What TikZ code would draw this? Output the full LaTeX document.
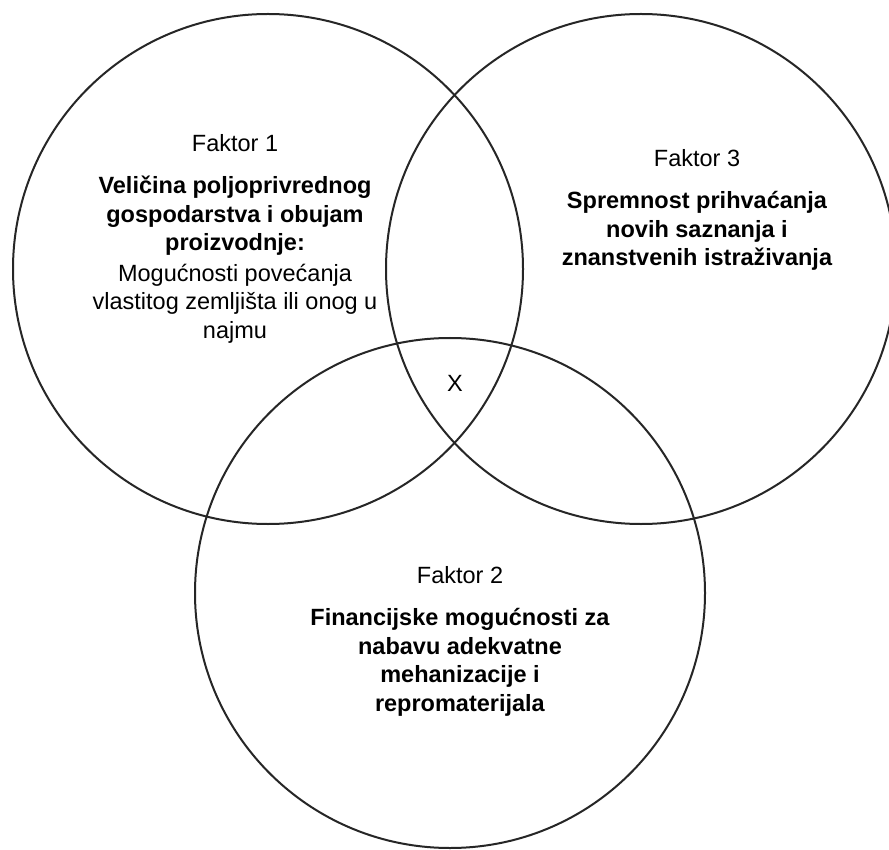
\documentclass[tikz,border=0pt]{standalone}
\usepackage{fontspec}
\setmainfont{Liberation Sans}
\begin{document}
\begin{tikzpicture}[x=1pt,y=-1pt,
  venn/.style={draw=black!85, line width=2pt},
  vtext/.style={align=center, inner sep=0pt, anchor=north, font=\fontsize{23.5}{28.5}\selectfont}]
\useasboundingbox (0,0) rectangle (889,850);
\fill[white] (0,0) rectangle (889,850);
\coordinate (c1) at (268,269);
\coordinate (c3) at (641,269);
\coordinate (c2) at (450,593);
\draw[venn] (c1) circle[radius=255];
\draw[venn] (c3) circle[radius=255];
\draw[venn] (c2) circle[radius=255];
\node[vtext] (t1) at (235,134.5) {Faktor 1\\[13.5pt]
  \textbf{Veličina poljoprivrednog}\\
  \textbf{gospodarstva i obujam}\\
  \textbf{proizvodnje:}\\[2pt]
  Mogućnosti povećanja\\
  vlastitog zemljišta ili onog u\\
  najmu};
\node[vtext] (t3) at (697,149.5) {Faktor 3\\[13.5pt]
  \textbf{Spremnost prihvaćanja}\\
  \textbf{novih saznanja i}\\
  \textbf{znanstvenih istraživanja}};
\node[vtext] (t2) at (460,566.5) {Faktor 2\\[13.5pt]
  \textbf{Financijske mogućnosti za}\\
  \textbf{nabavu adekvatne}\\
  \textbf{mehanizacije i}\\
  \textbf{repromaterijala}};
\node[inner sep=0pt, font=\fontsize{23.5}{28.5}\selectfont] (x) at (455,383) {X};
\end{tikzpicture}
\end{document}
